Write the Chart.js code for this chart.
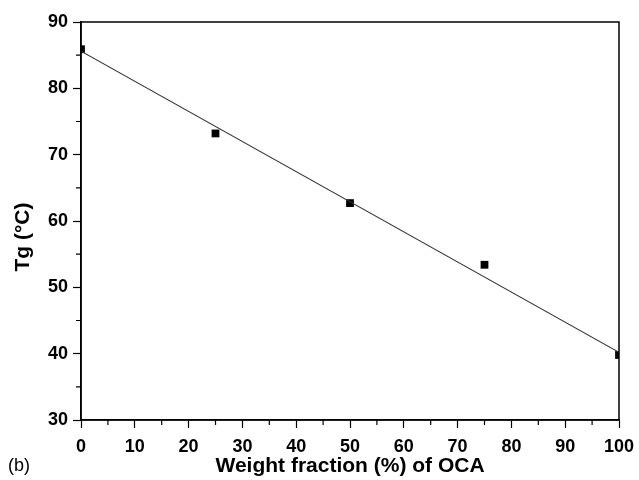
<!DOCTYPE html>
<html>
<head>
<meta charset="utf-8">
<script src="https://cdn.jsdelivr.net/npm/chart.js@4"></script>
<style>
  body { margin: 0; background: #fff; }
  #wrap { width: 639px; height: 480px; }
</style>
</head>
<body>
<div id="wrap"><canvas id="chart" width="639" height="480"></canvas></div>
<script>
// measured values
const fractions = [0, 25, 50, 75, 100];
const tgValues = [85.9, 73.2, 62.7, 53.4, 39.8];
// linear fit, end points
const fitX = [0, 100];
const fitY = [85.6, 40.2];
const xTicks = [0, 10, 20, 30, 40, 50, 60, 70, 80, 90, 100];
const yTicks = [30, 40, 50, 60, 70, 80, 90];

const font = 'Arial, "Liberation Sans", sans-serif';

// frame, minor ticks, y title (sits a bit below centre) and panel label
const extras = {
  id: 'extras',
  afterDraw(chart) {
    const { ctx, chartArea: a, scales } = chart;
    ctx.save();
    ctx.strokeStyle = '#000';
    ctx.lineWidth = 1.5;
    ctx.strokeRect(a.left, a.top, a.right - a.left, a.bottom - a.top);
    ctx.lineWidth = 1.2;
    ctx.beginPath();
    for (let v = 5; v < 100; v += 10) {
      const px = scales.x.getPixelForValue(v);
      ctx.moveTo(px, a.bottom);
      ctx.lineTo(px, a.bottom + 5);
    }
    for (let v = 35; v < 90; v += 10) {
      const py = scales.y.getPixelForValue(v);
      ctx.moveTo(a.left, py);
      ctx.lineTo(a.left - 5, py);
    }
    ctx.stroke();

    ctx.fillStyle = '#000';
    ctx.textAlign = 'center';
    ctx.textBaseline = 'middle';
    ctx.save();
    ctx.translate(23, 237);
    ctx.rotate(-Math.PI / 2);
    ctx.font = 'bold 21px ' + font;
    ctx.fillText('Tg (°C)', 0, 0);
    ctx.restore();

    ctx.textAlign = 'left';
    ctx.font = '18px ' + font;
    ctx.fillText('(b)', 8, 466);
    ctx.restore();
  }
};

const ctx = document.getElementById('chart').getContext('2d');
new Chart(ctx, {
  data: {
    datasets: [{
      type: 'line',
      data: fitX.map((x, i) => ({ x, y: fitY[i] })),
      borderColor: '#333',
      borderWidth: 1.2,
      pointRadius: 0,
      clip: 0
    }, {
      type: 'scatter',
      data: fractions.map((x, i) => ({ x, y: tgValues[i] })),
      pointStyle: 'rect',
      pointRadius: 5.5,
      backgroundColor: '#000',
      borderColor: '#000',
      borderWidth: 0,
      clip: 0
    }]
  },
  options: {
    responsive: false,
    animation: false,
    layout: { padding: { top: 22, right: 20, left: 0, bottom: 0 } },
    plugins: {
      legend: { display: false },
      tooltip: { enabled: false }
    },
    scales: {
      x: {
        type: 'linear',
        min: 0,
        max: 100,
        afterFit: s => { s.height = 60; s.paddingRight = 0; s.paddingLeft = 0; },
        afterBuildTicks: s => { s.ticks = xTicks.map(v => ({ value: v })); },
        grid: { drawOnChartArea: false, tickLength: 8, tickColor: '#000', tickWidth: 1.2 },
        border: { color: '#000', width: 1.5 },
        ticks: { color: '#000', padding: 8, maxRotation: 0, font: { family: font, size: 18, weight: 'bold' } },
        title: {
          display: true,
          text: 'Weight fraction (%) of OCA',
          color: '#000',
          padding: { top: 0, bottom: 1 },
          font: { family: font, size: 21, weight: 'bold' }
        }
      },
      y: {
        type: 'linear',
        min: 30,
        max: 90,
        afterFit: s => { s.width = 81; s.paddingTop = 0; s.paddingBottom = 0; },
        afterBuildTicks: s => { s.ticks = yTicks.map(v => ({ value: v })); },
        grid: { drawOnChartArea: false, tickLength: 8, tickColor: '#000', tickWidth: 1.2 },
        border: { color: '#000', width: 1.5 },
        ticks: { color: '#000', padding: 5, font: { family: font, size: 18, weight: 'bold' } }
      }
    }
  },
  plugins: [extras]
});
</script>
</body>
</html>
